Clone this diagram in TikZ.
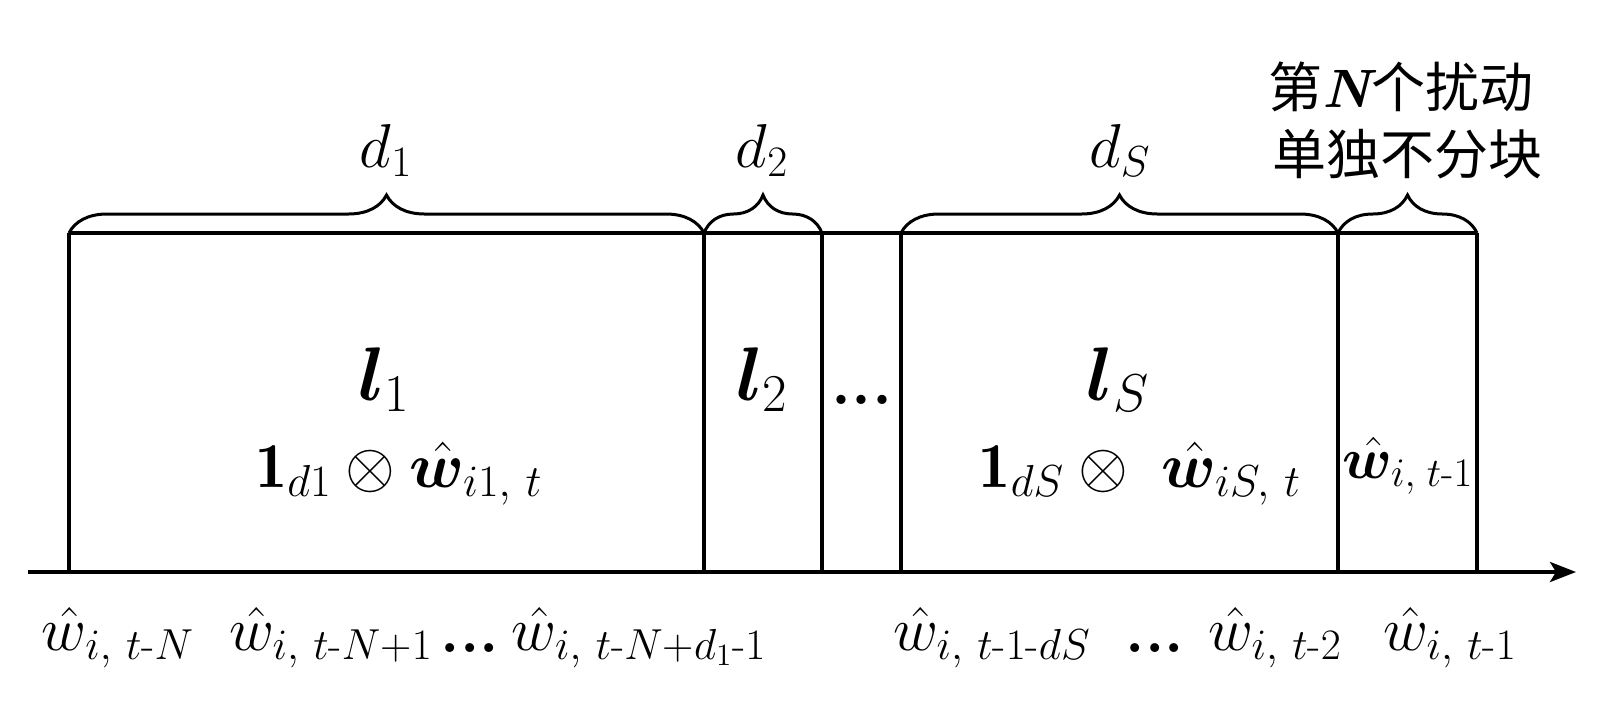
\RequirePackage{fix-cm}
\documentclass[tikz,border=0pt]{standalone}
\usepackage{amsmath}
\usepackage{bm}
\usepackage{fontspec}
\newfontfamily\cjk{Noto Sans CJK SC}
\usetikzlibrary{decorations.pathreplacing,arrows.meta}
\newcommand\bw{\bm{w}}
\newcommand\bl{\bm{l}}
\newcommand\mdash{\text{-}}
\newcommand\mplus{\text{+}}
\newcommand\cg{,\mkern6mu}
\begin{document}
\begin{tikzpicture}[x=0.5pt,y=-0.5pt,line width=2pt,
  lab/.style={inner sep=0pt,anchor=base,font=\fontsize{31}{37}\selectfont},
  inlab/.style={inner sep=0pt,anchor=base,font=\fontsize{32}{38}\selectfont},
  smlab/.style={inner sep=0pt,anchor=base,font=\fontsize{29}{35}\selectfont},
  llab/.style={inner sep=0pt,anchor=base,font=\fontsize{38}{44}\selectfont},
  cjklab/.style={inner sep=0pt,anchor=base,font=\fontsize{27}{32}\selectfont\cjk},
  bracedec/.style={decorate,decoration={brace,amplitude=19pt},line width=1.5pt}]
\useasboundingbox (0,0) rectangle (1604,724);
% dividers
\foreach \n/\x in {0/69,1/704,2/822,3/901,4/1338,5/1477}{
  \coordinate (t\n) at (\x,233);
  \coordinate (b\n) at (\x,572);
}
\coordinate (axL) at (28,572);
\coordinate (axR) at (1576,572);
\draw (t0) -- (t5);
\foreach \n in {0,...,5}{\draw (t\n) -- (b\n);}
\draw[-{Stealth[length=13pt,width=10pt,inset=3pt]}] (axL) -- (axR);
% braces
\draw[bracedec] (t0) -- (t1);
\draw[bracedec] (t1) -- (t2);
\draw[bracedec] (t3) -- (t4);
\draw[bracedec] (t4) -- (t5);
% brace labels
\node[lab] (d1) at (386,167) {$d_1$};
\node[lab] (d2) at (762,167) {$d_2$};
\node[lab] (dS) at (1120,167) {$d_S$};
\node[cjklab] (c1) at (1401,107) {第{\rmfamily\bfseries\itshape N}个扰动};
\node[cjklab] (c2) at (1407,174) {单独不分块};
% inside
\node[llab] (l1) at (384,400) {$\bl_1$};
\node[inlab] (e1) at (399,487) {$\mathbf{1}_{d1}\otimes\hat{\bw}_{i1\cg t}$};
\node[llab] (l2) at (762,400) {$\bl_2$};
\node[inlab] (dots) at (862,404) {\textbf{...}};
\node[llab] (lS) at (1118,400) {$\bl_S$};
\node[inlab] (eS) at (1140,487) {$\mathbf{1}_{dS}\otimes\ \hat{\bw}_{iS\cg t}$};
\node[smlab] (eN) at (1408,478) {$\hat{\bw}_{i,\mkern5mu t\mdash1}$};
% bottom labels
\node[lab] (w1) at (118,650) {$\hat{w}_{i\cg t\mdash N}$};
\node[lab] (w2) at (331,650) {$\hat{w}_{i\cg t\mdash N\mplus1}$};
\node[lab] (bd1) at (470,652) {\textbf{...}};
\node[lab] (w3) at (639,650) {$\hat{w}_{i\cg t\mdash N\mplus d_1\mdash1}$};
\node[lab] (w4) at (992,650) {$\hat{w}_{i\cg t\mdash1\mdash dS}$};
\node[lab] (bd2) at (1155,652) {\textbf{...}};
\node[lab] (w5) at (1275,650) {$\hat{w}_{i\cg t\mdash2}$};
\node[lab] (w6) at (1450,650) {$\hat{w}_{i\cg t\mdash1}$};
\end{tikzpicture}
\end{document}
